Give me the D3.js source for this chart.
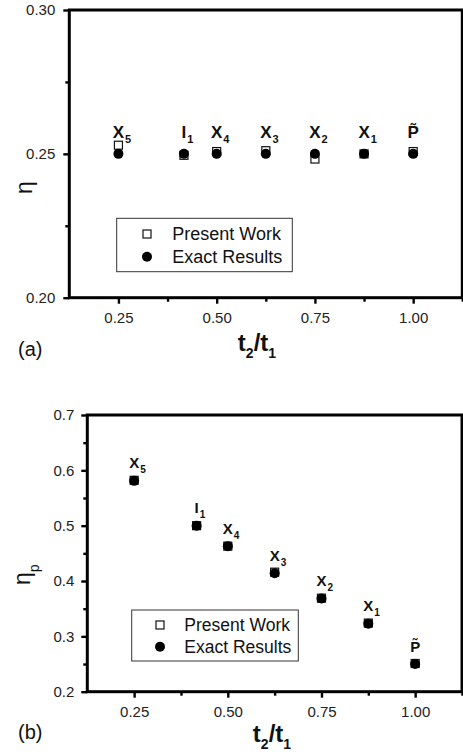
<!DOCTYPE html>
<html>
<head>
<meta charset="utf-8">
<script src="https://cdn.jsdelivr.net/npm/d3@7"></script>
<style>
  body { margin: 0; background: #fff; }
  svg { display: block; font-family: "Liberation Sans", Arial, Helvetica, sans-serif; }
</style>
</head>
<body>
<svg id="fig" width="463" height="756"></svg>
<script>
// t2/t1 of every high symmetry point
const ratio = [0.25, 0.4167, 0.5, 0.625, 0.75, 0.875, 1.0];
const pointName = ["X", "I", "X", "X", "X", "X", "P\u0303"];
const pointSub = ["5", "1", "4", "3", "2", "1", ""];

// panel (a): eta
const etaPresent = [0.2530, 0.2495, 0.2508, 0.2511, 0.2482, 0.2500, 0.2508];
const etaExact = [0.250, 0.250, 0.250, 0.250, 0.250, 0.250, 0.250];

// panel (b): eta_p
const etaPPresent = [0.582, 0.500, 0.463, 0.416, 0.369, 0.324, 0.251];
const etaPExact = [0.581, 0.500, 0.463, 0.414, 0.3685, 0.323, 0.250];

const xTicks = [0.25, 0.50, 0.75, 1.00];
const xMinor = [0.375, 0.625, 0.875, 1.125];
const yTicksA = [0.20, 0.25, 0.30];
const yMinorA = [0.225, 0.275];
const yTicksB = [0.2, 0.3, 0.4, 0.5, 0.6, 0.7];
const yMinorB = [0.25, 0.35, 0.45, 0.55, 0.65];
const legendNames = ["Present Work", "Exact Results"];

var svg = d3.select("#fig");

function drawPanel(p) {
  var g = svg.append("g");
  var x = d3.scaleLinear().domain([0.125, 1.125]).range([p.left, p.right]);
  var y = d3.scaleLinear().domain(p.yDomain).range([p.bottom, p.top]);

  // minor ticks
  g.append("g")
    .attr("transform", "translate(0," + p.bottom + ")")
    .call(d3.axisBottom(x).tickValues(xMinor).tickSize(4).tickFormat(""));
  g.append("g")
    .attr("transform", "translate(" + p.left + ",0)")
    .call(d3.axisLeft(y).tickValues(p.yMinor).tickSize(4).tickFormat(""));

  // major ticks
  g.append("g")
    .attr("transform", "translate(0," + p.bottom + ")")
    .call(d3.axisBottom(x).tickValues(xTicks).tickSize(6).tickPadding(9).tickFormat(d3.format(".2f")));
  g.append("g")
    .attr("transform", "translate(" + p.left + ",0)")
    .call(d3.axisLeft(y).tickValues(p.yTicks).tickSize(6).tickPadding(p.yPad).tickFormat(d3.format(p.yFmt)));

  g.selectAll(".domain").remove();
  g.selectAll(".tick line").attr("stroke", "#000").attr("stroke-width", 2.4);
  g.selectAll(".tick text").attr("font-size", 15).attr("fill", "#222")
    .style("font-family", "'Liberation Sans', Arial, sans-serif");

  // frame
  g.append("rect")
    .attr("x", p.left).attr("y", p.top)
    .attr("width", p.right - p.left).attr("height", p.bottom - p.top)
    .attr("fill", "none").attr("stroke", "#000").attr("stroke-width", 3);

  // markers: squares under, circles on top
  g.selectAll(".sq").data(p.present).enter().append("rect")
    .attr("class", "sq")
    .attr("x", (d, i) => x(ratio[i]) - 4)
    .attr("y", d => y(d) - 4)
    .attr("width", 8).attr("height", 8)
    .attr("fill", "#fff").attr("stroke", "#111").attr("stroke-width", 1.2);
  g.selectAll(".dot").data(p.exact).enter().append("circle")
    .attr("class", "dot")
    .attr("cx", (d, i) => x(ratio[i]))
    .attr("cy", d => y(d))
    .attr("r", 5)
    .attr("fill", "#000");

  // point labels
  p.exact.forEach(function (d, i) {
    var cx = x(ratio[i]);
    var by = y(d) - p.labelGap;
    var t = g.append("text")
      .attr("x", cx).attr("y", by)
      .attr("text-anchor", "middle")
      .attr("font-size", p.labelFont).attr("font-weight", "bold").attr("fill", "#111")
      .text(pointName[i]);
    var w = t.node().getComputedTextLength();
    if (pointSub[i]) {
      g.append("text")
        .attr("x", cx + w / 2 + 1).attr("y", by + 5)
        .attr("font-size", p.subFont).attr("font-weight", "bold").attr("fill", "#111")
        .text(pointSub[i]);
    }
  });

  // legend
  var L = p.legend;
  g.append("rect")
    .attr("x", L.x).attr("y", L.y).attr("width", L.w).attr("height", L.h)
    .attr("fill", "#fff").attr("stroke", "#333").attr("stroke-width", 1);
  g.append("rect")
    .attr("x", L.markX - 4).attr("y", L.rows[0] - 4).attr("width", 8).attr("height", 8)
    .attr("fill", "#fff").attr("stroke", "#111").attr("stroke-width", 1.2);
  g.append("circle")
    .attr("cx", L.markX).attr("cy", L.rows[1]).attr("r", 5).attr("fill", "#000");
  legendNames.forEach(function (name, i) {
    g.append("text")
      .attr("x", L.textX).attr("y", L.rows[i] + L.font * 0.36)
      .attr("font-size", L.font).attr("fill", "#111")
      .text(name);
  });

  // x title t2/t1
  var xt = g.append("text")
    .attr("x", p.xTitle[0]).attr("y", p.xTitle[1])
    .attr("text-anchor", "middle")
    .attr("font-size", 24).attr("font-weight", "bold").attr("fill", "#111");
  xt.append("tspan").text("t");
  xt.append("tspan").attr("font-size", 14).attr("dy", 7).text("2");
  xt.append("tspan").attr("dy", -7).text("/t");
  xt.append("tspan").attr("font-size", 14).attr("dy", 7).text("1");

  // y title
  var yt = g.append("text")
    .attr("transform", "translate(" + p.yTitle[0] + "," + p.yTitle[1] + ") rotate(-90)")
    .attr("font-size", 23).attr("fill", "#111");
  yt.append("tspan").text("\u03B7");
  if (p.ySub) yt.append("tspan").attr("font-size", 14).attr("dy", 9).text(p.ySub);

  // panel tag
  g.append("text")
    .attr("x", 18).attr("y", p.tagY)
    .attr("font-size", 20).attr("fill", "#111")
    .text(p.tag);
}

drawPanel({
  left: 69.3, right: 462.3, top: 10, bottom: 297.7,
  yDomain: [0.20, 0.30], yTicks: yTicksA, yMinor: yMinorA, yFmt: ".2f", yPad: 8,
  present: etaPresent, exact: etaExact,
  labelFont: 17, subFont: 11, labelGap: 16,
  legend: { x: 116.7, y: 218.3, w: 175.6, h: 53.4, markX: 147, rows: [234, 256.7], textX: 172.3, font: 18 },
  xTitle: [257, 351], yTitle: [32, 194], ySub: "",
  tag: "(a)", tagY: 356
});

drawPanel({
  left: 87.3, right: 462, top: 415, bottom: 691.7,
  yDomain: [0.2, 0.7], yTicks: yTicksB, yMinor: yMinorB, yFmt: ".1f", yPad: 7,
  present: etaPPresent, exact: etaPExact,
  labelFont: 15, subFont: 10, labelGap: 12.5,
  legend: { x: 131.7, y: 610, w: 166.6, h: 51, markX: 160, rows: [625, 646.7], textX: 184.3, font: 17.5 },
  xTitle: [272, 741.7], yTitle: [30, 585], ySub: "p",
  tag: "(b)", tagY: 739
});
</script>
</body>
</html>
